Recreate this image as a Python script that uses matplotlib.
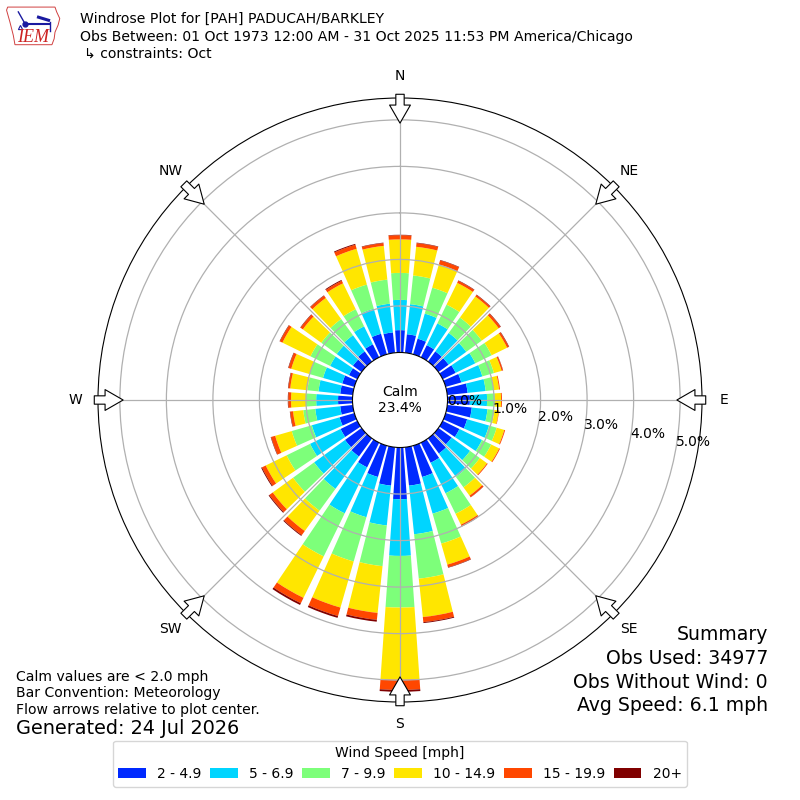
import matplotlib
matplotlib.use('Agg')
import matplotlib.pyplot as plt
import numpy as np
from matplotlib.patches import FancyArrowPatch, Polygon

# direction bins (deg, meteorological: where the wind comes from)
directions = np.arange(0, 360, 10)
speed_labels = ['2 - 4.9', '5 - 6.9', '7 - 9.9', '10 - 14.9', '15 - 19.9', '20+']

# frequency (%) of each speed bin per direction
spd_2_5 = [0.48, 0.40, 0.35, 0.29, 0.27, 0.27, 0.31, 0.35, 0.44, 0.48, 0.53, 0.48,
           0.40, 0.35, 0.40, 0.48, 0.70, 0.83, 1.11, 0.83, 0.70, 0.59, 0.48, 0.44,
           0.40, 0.33, 0.27, 0.31, 0.27, 0.27, 0.20, 0.23, 0.27, 0.31, 0.46, 0.44]
spd_5_7 = [0.65, 0.65, 0.56, 0.52, 0.49, 0.47, 0.47, 0.47, 0.39, 0.37, 0.34, 0.49,
           0.54, 0.49, 0.62, 0.73, 0.82, 1.05, 1.22, 0.86, 0.90, 1.10, 0.86, 0.82,
           0.73, 0.62, 0.54, 0.47, 0.47, 0.43, 0.45, 0.43, 0.43, 0.43, 0.56, 0.62]
spd_7_10 = [0.58, 0.62, 0.58, 0.45, 0.41, 0.41, 0.39, 0.26, 0.17, 0.17, 0.15, 0.17,
            0.22, 0.26, 0.28, 0.49, 0.67, 0.96, 1.11, 0.88, 0.99, 1.03, 0.58, 0.56,
            0.56, 0.45, 0.26, 0.22, 0.24, 0.30, 0.47, 0.41, 0.43, 0.41, 0.54, 0.52]
spd_10_15 = [0.72, 0.62, 0.52, 0.52, 0.56, 0.45, 0.37, 0.17, 0.12, 0.13, 0.09, 0.17,
             0.19, 0.19, 0.22, 0.26, 0.47, 0.83, 1.55, 1.01, 1.03, 0.99, 0.54, 0.54,
             0.50, 0.37, 0.22, 0.32, 0.37, 0.41, 0.67, 0.49, 0.56, 0.62, 0.80, 0.73]
spd_15_20 = [0.09, 0.08, 0.09, 0.05, 0.04, 0.05, 0.04, 0.03, 0.02, 0.02, 0.01, 0.02,
             0.02, 0.02, 0.04, 0.04, 0.06, 0.11, 0.22, 0.15, 0.19, 0.13, 0.11, 0.09,
             0.09, 0.09, 0.06, 0.06, 0.04, 0.06, 0.06, 0.06, 0.06, 0.06, 0.09, 0.06]
spd_20p = [0.01, 0.01, 0.01, 0.01, 0.01, 0.01, 0.01, 0.005, 0.0, 0.0, 0.0, 0.0,
           0.0, 0.0, 0.005, 0.005, 0.01, 0.02, 0.04, 0.04, 0.04, 0.04, 0.02, 0.02,
           0.02, 0.01, 0.01, 0.01, 0.01, 0.01, 0.01, 0.01, 0.01, 0.02, 0.02, 0.01]

calm_pct = 23.4
rings = [0, 1, 2, 3, 4, 5]
compass = ['N', 'NE', 'E', 'SE', 'S', 'SW', 'W', 'NW']

title_lines = ["Windrose Plot for [PAH] PADUCAH/BARKLEY",
               "Obs Between: 01 Oct 1973 12:00 AM - 31 Oct 2025 11:53 PM America/Chicago",
               "\u21b3 constraints: Oct"]
notes = ["Calm values are < 2.0 mph", "Bar Convention: Meteorology",
         "Flow arrows relative to plot center."]
summary = ["Summary", "Obs Used: 34977", "Obs Without Wind: 0", "Avg Speed: 6.1 mph"]

colors = plt.cm.jet(np.linspace(0, 1, 7))[1:]

fig = plt.figure(figsize=(8, 8), dpi=100)
ax = fig.add_axes([0.1225, 0.1225, 0.755, 0.755], projection='polar')
ax.set_theta_zero_location('N')
ax.set_theta_direction(-1)

theta = np.radians(directions)
bottom = np.zeros(len(directions))
handles = []
for vals, color, label in zip([spd_2_5, spd_5_7, spd_7_10, spd_10_15, spd_15_20, spd_20p],
                              colors, speed_labels):
    vals = np.array(vals)
    b = ax.bar(theta, vals, width=np.radians(8), bottom=bottom, color=color,
               linewidth=0, label=label)
    handles.append(b)
    bottom += vals

ax.set_rorigin(-47.5 / 46.5)
ax.set_ylim(0, 5.47)
ax.set_xticks(np.radians(np.arange(0, 360, 45)))
ax.set_xticklabels([])
ax.set_yticks(rings[1:])
ax.set_yticklabels([])
ax.tick_params(length=0)
ax.grid(True, color='#b0b0b0', lw=0.9)

# radial labels
for r in rings:
    ax.text(np.radians(100), r, f"{r:.1f}%", ha='left', va='bottom', fontsize=10)

# compass labels and flow arrows
for i, name in enumerate(compass):
    t = np.radians(i * 45)
    ax.text(t, 5.95, name, ha='center', va='center', fontsize=10, clip_on=False)
    arr = FancyArrowPatch((t, 5.55), (t, 4.93),
                          arrowstyle='simple,head_length=0.65,head_width=0.75,tail_width=0.3',
                          mutation_scale=20, fc='white', ec='black', lw=0.8,
                          shrinkA=0, shrinkB=0, transform=ax.transData,
                          clip_on=False, zorder=5)
    ax.add_artist(arr)

ax.text(0, -47.5 / 46.5, f"Calm\n{calm_pct:.1f}%", ha='center', va='center', fontsize=10)

# header
for i, line in enumerate(title_lines):
    fig.text(0.1 + (0.005 if i == 2 else 0), 1 - (19 + 17.5 * i) / 800, line,
             ha='left', va='center', fontsize=10.1)

# IEM logo (rough sketch)
lax = fig.add_axes([6 / 800, 1 - 48 / 800, 56 / 800, 44 / 800])
lax.axis('off')
lax.set_xlim(0, 1)
lax.set_ylim(0, 1)
iowa = [(0.03, 0.93), (0.875, 0.93), (0.905, 0.82), (0.96, 0.67), (0.93, 0.52),
        (0.875, 0.36), (0.86, 0.21), (0.82, 0.075), (0.16, 0.075), (0.13, 0.29),
        (0.07, 0.59), (0.01, 0.86)]
lax.add_patch(Polygon(iowa, closed=True, fill=False, ec='#d04040', lw=0.7))
lax.plot([0.34, 0.76], [0.55, 0.55], color='#1a1aa0', lw=1.5)
lax.plot([0.34], [0.55], 'o', color='#1a1aa0', ms=3.5)
lax.plot([0.34, 0.22], [0.55, 0.82], color='#1a1aa0', lw=1)
lax.plot([0.25], [0.47], '^', color='#1a1aa0', ms=3, mfc='none', mew=0.8)
lax.plot([0.58, 0.76], [0.70, 0.63], color='#1a1aa0', lw=2.2)
lax.plot([0.79, 0.79], [0.59, 0.38], color='#1a1aa0', lw=1)
lax.text(0.2, 0.25, "IEM", color='#cc2222', fontsize=13, style='italic',
         family='Liberation Serif', ha='left', va='center')

# notes
for i, line in enumerate(notes):
    fig.text(16 / 800, 1 - (677 + 16.5 * i) / 800, line, ha='left', va='center', fontsize=10.1)
fig.text(16 / 800, 1 - 729 / 800, "Generated: 24 Jul 2026", ha='left', va='center', fontsize=13.9)

for i, line in enumerate(summary):
    fig.text(768 / 800, 1 - (635 + 23.5 * i) / 800, line, ha='right', va='center', fontsize=13.6)

fig.legend(handles=handles, labels=speed_labels, ncol=6, loc='lower center',
           bbox_to_anchor=(0.5, 0.008), title='Wind Speed [mph]', fontsize=10,
           title_fontsize=10, columnspacing=0.62)

fig.savefig('out.png', dpi=100)
